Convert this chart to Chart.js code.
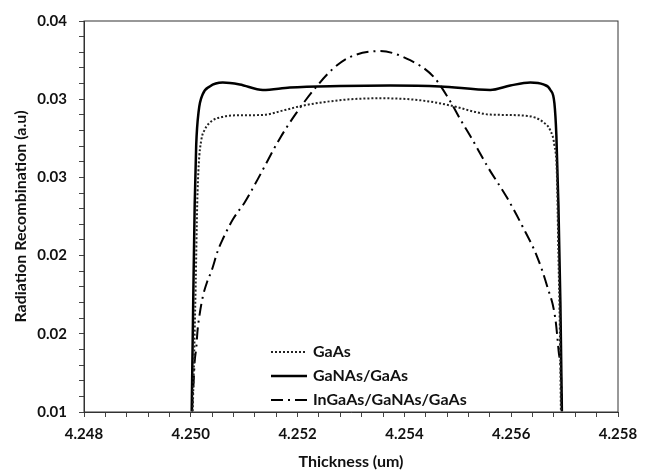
<!DOCTYPE html>
<html>
<head>
<meta charset="utf-8">
<script src="https://cdn.jsdelivr.net/npm/chart.js@4/dist/chart.umd.min.js"></script>
<style>
  html, body { margin: 0; padding: 0; background: #fff; }
  #wrap { width: 650px; height: 472px; }
</style>
</head>
<body>
<div id="wrap"><canvas id="myChart"></canvas></div>
<script>
// Thickness (um) / value pairs
var gaasX = [4.250036, 4.250064, 4.250092, 4.250120, 4.250148, 4.250195, 4.250261, 4.250392, 4.250580, 4.250824,
             4.251349, 4.251762, 4.252099, 4.252887, 4.253544, 4.254295, 4.254914, 4.255326, 4.255608, 4.256302,
             4.256602, 4.256734, 4.256809, 4.256856, 4.256884, 4.256912, 4.256931];
var gaasY = [0.01005, 0.01465, 0.01992, 0.02594, 0.02895, 0.03083, 0.03166, 0.03233, 0.03263, 0.03276,
             0.03279, 0.03317, 0.03351, 0.03396, 0.03407, 0.03392, 0.03347, 0.03302, 0.03282, 0.03272,
             0.03223, 0.03159, 0.03046, 0.02820, 0.02218, 0.01615, 0.01005];

var ganasX = [4.250017, 4.250045, 4.250073, 4.250101, 4.250148, 4.250223, 4.250355, 4.250598, 4.250917, 4.251349,
              4.251856, 4.252794, 4.253732, 4.254670, 4.255608, 4.255983, 4.256358, 4.256602, 4.256734, 4.256809,
              4.256846, 4.256884, 4.256921, 4.256949];
var ganasY = [0.01005, 0.01841, 0.02594, 0.03046, 0.03310, 0.03438, 0.03498, 0.03528, 0.03513, 0.03471,
              0.03490, 0.03501, 0.03505, 0.03498, 0.03471, 0.03505, 0.03528, 0.03513, 0.03471, 0.03370,
              0.03121, 0.02594, 0.01841, 0.01005];

var ingaasX = [4.250023, 4.250036, 4.250054, 4.250073, 4.250105, 4.250124, 4.250167, 4.250229, 4.250311, 4.250386,
               4.250510, 4.250604, 4.250792, 4.251011, 4.251199, 4.251668, 4.251981, 4.252356, 4.252668, 4.252981,
               4.253544, 4.254107, 4.254544, 4.254857, 4.255045, 4.255265, 4.255576, 4.255921, 4.256203, 4.256484,
               4.256672, 4.256827, 4.256889, 4.256934, 4.256949];
var ingaasY = [0.01005, 0.01113, 0.01239, 0.01389, 0.01502, 0.01615, 0.01753, 0.01892, 0.02005, 0.02080,
               0.02242, 0.02331, 0.02481, 0.02609, 0.02745, 0.03099, 0.03297, 0.03498, 0.03636, 0.03724,
               0.03769, 0.03699, 0.03573, 0.03385, 0.03247, 0.03096, 0.02870, 0.02645, 0.02431, 0.02193,
               0.01967, 0.01715, 0.01465, 0.01264, 0.01005];

var seriesNames = ['GaAs', 'GaNAs/GaAs', 'InGaAs/GaNAs/GaAs'];

// tick labels (the y labels are rounded in the original)
var xTickValues = [4.248, 4.250, 4.252, 4.254, 4.256, 4.258];
var xTickLabels = ['4.248', '4.250', '4.252', '4.254', '4.256', '4.258'];
var yTickValues = [0.010, 0.016, 0.022, 0.028, 0.034, 0.040];
var yTickLabels = ['0.01', '0.02', '0.02', '0.03', '0.03', '0.04'];

function toPoints(xs, ys) {
    var pts = [];
    for (var i = 0; i < xs.length; i++) pts.push({ x: xs[i], y: ys[i] });
    return pts;
}

// majors plus 4 minor ticks in between
function withMinors(majors) {
    var out = [];
    for (var i = 0; i < majors.length; i++) {
        out.push({ value: majors[i] });
        if (i < majors.length - 1) {
            var step = (majors[i + 1] - majors[i]) / 5;
            for (var k = 1; k < 5; k++) out.push({ value: majors[i] + step * k });
        }
    }
    return out;
}

function labelFor(values, labels, v) {
    for (var i = 0; i < values.length; i++) {
        if (Math.abs(values[i] - v) < 1e-9) return labels[i];
    }
    return '';
}

var tickFont = { family: 'Lato', size: 15, weight: 'bold' };
var titleFont = { family: 'Lato', size: 16, weight: 'bold' };

// box around the plot + legend inside the plot
var framePlugin = {
    id: 'frame',
    afterDraw: function(chart) {
        var ctx = chart.ctx, a = chart.chartArea;
        ctx.save();
        ctx.strokeStyle = '#333';
        ctx.lineWidth = 1;
        ctx.strokeRect(a.left, a.top, a.right - a.left, a.bottom - a.top);

        var x0 = a.left + 187, y0 = a.top + 331;
        chart.data.datasets.forEach(function(ds, i) {
            var y = y0 + i * 24;
            ctx.strokeStyle = ds.borderColor;
            ctx.lineWidth = ds.borderWidth;
            ctx.setLineDash(ds.borderDash || []);
            ctx.beginPath();
            ctx.moveTo(x0, y);
            ctx.lineTo(x0 + 36, y);
            ctx.stroke();
            ctx.setLineDash([]);
            ctx.font = 'bold 16px Lato';
            ctx.fillStyle = '#111';
            ctx.textBaseline = 'middle';
            ctx.fillText(ds.label, x0 + 42, y);
        });
        ctx.restore();
    }
};

window.addEventListener('load', function() {
    var context = document.getElementById('myChart').getContext('2d');

    new Chart(context, {
        type: 'scatter',
        data: {
            datasets: [{
                label: seriesNames[0],
                data: toPoints(gaasX, gaasY),
                borderColor: '#222',
                borderWidth: 2,
                borderDash: [2, 2],
                showLine: true,
                pointRadius: 0,
                cubicInterpolationMode: 'monotone'
            }, {
                label: seriesNames[1],
                data: toPoints(ganasX, ganasY),
                borderColor: '#000',
                borderWidth: 2.5,
                showLine: true,
                pointRadius: 0,
                cubicInterpolationMode: 'monotone'
            }, {
                label: seriesNames[2],
                data: toPoints(ingaasX, ingaasY),
                borderColor: '#000',
                borderWidth: 2,
                borderDash: [12, 5, 2, 5],
                showLine: true,
                pointRadius: 0,
                cubicInterpolationMode: 'monotone'
            }]
        },
        options: {
            responsive: true,
            maintainAspectRatio: false,
            animation: false,
            layout: { padding: { left: 0, top: 13, right: 32, bottom: 0 } },
            plugins: {
                legend: { display: false },
                tooltip: { enabled: false }
            },
            scales: {
                x: {
                    type: 'linear',
                    min: 4.248,
                    max: 4.258,
                    afterBuildTicks: function(scale) { scale.ticks = withMinors(xTickValues); },
                    afterFit: function(scale) { scale.height = 60; },
                    border: { color: '#333', width: 1 },
                    grid: { drawOnChartArea: false, drawTicks: true, tickLength: 5, tickColor: '#444' },
                    ticks: {
                        autoSkip: false,
                        maxRotation: 0,
                        padding: 8,
                        color: '#111',
                        font: tickFont,
                        callback: function(v) { return labelFor(xTickValues, xTickLabels, v); }
                    },
                    title: {
                        display: true,
                        text: 'Thickness (um)',
                        color: '#111',
                        font: titleFont,
                        padding: { top: 0, bottom: 1 }
                    }
                },
                y: {
                    min: 0.01,
                    max: 0.04,
                    afterBuildTicks: function(scale) { scale.ticks = withMinors(yTickValues); },
                    afterFit: function(scale) { scale.width = 84; },
                    border: { color: '#333', width: 1 },
                    grid: { drawOnChartArea: false, drawTicks: true, tickLength: 5, tickColor: '#444' },
                    ticks: {
                        autoSkip: false,
                        padding: 12,
                        color: '#111',
                        font: tickFont,
                        callback: function(v) { return labelFor(yTickValues, yTickLabels, v); }
                    },
                    title: {
                        display: true,
                        text: 'Radiation Recombination (a.u)',
                        color: '#111',
                        font: titleFont,
                        padding: { top: 11, bottom: 0 }
                    }
                }
            }
        },
        plugins: [framePlugin]
    });
});
</script>
</body>
</html>
